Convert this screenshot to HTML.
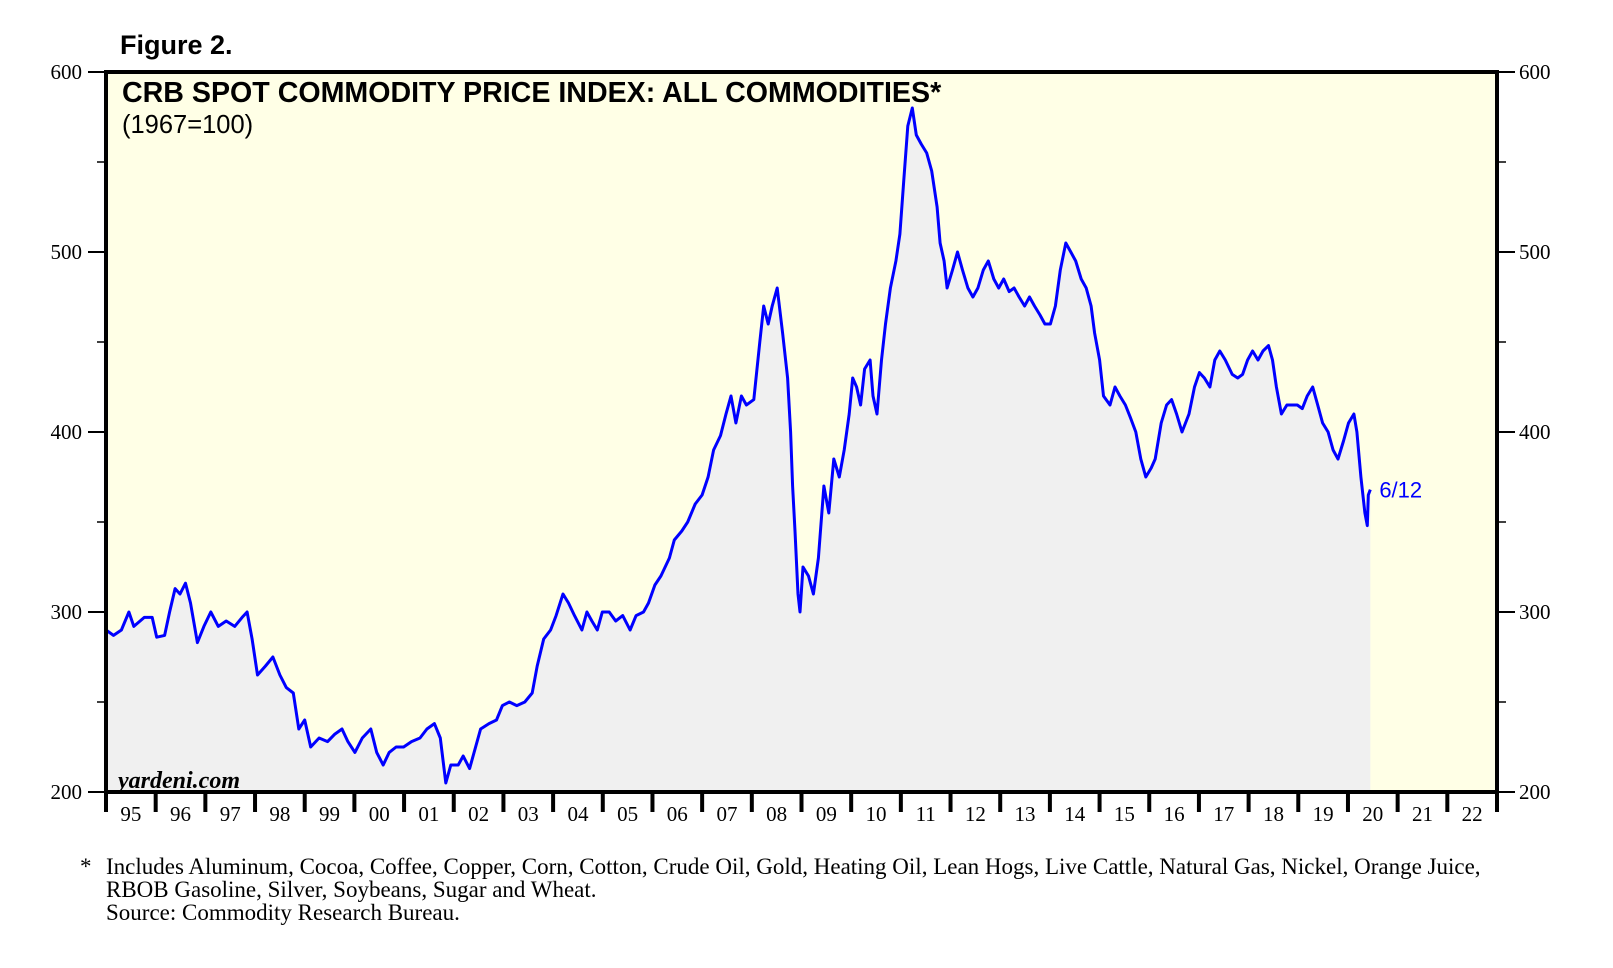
<!DOCTYPE html>
<html><head><meta charset="utf-8"><style>
body{margin:0;background:#fff;width:1613px;height:968px;overflow:hidden}
svg{display:block}
</style></head><body>
<svg id="chart" width="1613" height="968" xmlns="http://www.w3.org/2000/svg">
<text x="120" y="54" font-family="Liberation Sans, sans-serif" font-weight="bold" font-size="27">Figure 2.</text>
<rect x="106" y="72" width="1391" height="720" fill="#FFFFE6"/>
<g id="marks"></g>
<rect x="106" y="72" width="1391" height="720" fill="none" stroke="#000" stroke-width="4"/>
<text x="122" y="102" font-family="Liberation Sans, sans-serif" font-weight="bold" font-size="28.6">CRB SPOT COMMODITY PRICE INDEX: ALL COMMODITIES*</text>
<text x="122" y="133" font-family="Liberation Sans, sans-serif" font-size="25.5">(1967=100)</text>
<text x="118" y="788" font-family="Liberation Serif, serif" font-weight="bold" font-style="italic" font-size="24">yardeni.com</text>
<g id="axes"></g>
<g font-family="Liberation Serif, serif" font-size="23">
<text x="80" y="874">*</text>
<text x="106" y="874">Includes Aluminum, Cocoa, Coffee, Copper, Corn, Cotton, Crude Oil, Gold, Heating Oil, Lean Hogs, Live Cattle, Natural Gas, Nickel, Orange Juice,</text>
<text x="106" y="897">RBOB Gasoline, Silver, Soybeans, Sugar and Wheat.</text>
<text x="106" y="920">Source: Commodity Research Bureau.</text>
</g>
</svg>
<script>
const dates=[1995.00,1995.15,1995.31,1995.46,1995.56,1995.77,1995.93,1996.02,1996.18,1996.28,1996.39,1996.49,1996.60,1996.70,1996.84,1996.97,1997.11,1997.26,1997.42,1997.59,1997.74,1997.84,1997.94,1998.05,1998.21,1998.36,1998.50,1998.63,1998.77,1998.88,1999.00,1999.12,1999.29,1999.46,1999.60,1999.75,1999.87,2000.01,2000.16,2000.33,2000.45,2000.58,2000.70,2000.84,2000.99,2001.15,2001.32,2001.46,2001.61,2001.73,2001.84,2001.94,2002.09,2002.19,2002.32,2002.44,2002.54,2002.71,2002.86,2002.98,2003.12,2003.27,2003.43,2003.58,2003.68,2003.81,2003.95,2004.06,2004.20,2004.31,2004.43,2004.58,2004.68,2004.78,2004.89,2004.99,2005.13,2005.26,2005.40,2005.55,2005.67,2005.82,2005.92,2006.05,2006.17,2006.34,2006.44,2006.59,2006.71,2006.86,2007.00,2007.12,2007.23,2007.37,2007.48,2007.58,2007.68,2007.79,2007.89,2008.04,2008.16,2008.24,2008.33,2008.41,2008.51,2008.62,2008.72,2008.78,2008.82,2008.87,2008.93,2008.97,2009.03,2009.14,2009.24,2009.34,2009.45,2009.55,2009.65,2009.76,2009.86,2009.96,2010.03,2010.11,2010.19,2010.27,2010.38,2010.44,2010.52,2010.61,2010.69,2010.79,2010.90,2010.98,2011.06,2011.14,2011.23,2011.31,2011.41,2011.52,2011.62,2011.73,2011.79,2011.87,2011.93,2012.04,2012.14,2012.24,2012.35,2012.45,2012.55,2012.66,2012.76,2012.87,2012.97,2013.07,2013.18,2013.28,2013.38,2013.49,2013.59,2013.69,2013.80,2013.90,2014.01,2014.11,2014.21,2014.32,2014.42,2014.52,2014.63,2014.73,2014.83,2014.90,2015.00,2015.08,2015.21,2015.31,2015.41,2015.52,2015.62,2015.73,2015.83,2015.93,2016.04,2016.12,2016.24,2016.35,2016.45,2016.55,2016.66,2016.80,2016.91,2017.01,2017.11,2017.22,2017.32,2017.42,2017.53,2017.67,2017.78,2017.88,2017.98,2018.08,2018.19,2018.29,2018.40,2018.48,2018.56,2018.66,2018.77,2018.87,2018.98,2019.08,2019.18,2019.29,2019.39,2019.49,2019.60,2019.70,2019.80,2019.91,2020.01,2020.12,2020.18,2020.26,2020.34,2020.39,2020.41,2020.45];
const values=[290,287,290,300,292,297,297,286,287,300,313,310,316,305,283,292,300,292,295,292,297,300,285,265,270,275,265,258,255,235,240,225,230,228,232,235,228,222,230,235,222,215,222,225,225,228,230,235,238,230,205,215,215,220,213,225,235,238,240,248,250,248,250,255,270,285,290,298,310,305,298,290,300,295,290,300,300,295,298,290,298,300,305,315,320,330,340,345,350,360,365,375,390,398,410,420,405,420,415,418,450,470,460,470,480,455,430,400,370,345,310,300,325,320,310,330,370,355,385,375,390,410,430,425,415,435,440,420,410,440,460,480,495,510,540,570,580,565,560,555,545,525,505,495,480,490,500,490,480,475,480,490,495,485,480,485,478,480,475,470,475,470,465,460,460,470,490,505,500,495,485,480,470,455,440,420,415,425,420,415,408,400,385,375,380,385,405,415,418,410,400,410,425,433,430,425,440,445,440,432,430,432,440,445,440,445,448,440,425,410,415,415,415,413,420,425,415,405,400,390,385,395,405,410,400,375,355,348,365,368];
const yTicks=[200,300,400,500,600];
const yMinor=[250,350,450,550];
const yearLabels=["95","96","97","98","99","00","01","02","03","04","05","06","07","08","09","10","11","12","13","14","15","16","17","18","19","20","21","22"];
const endLabel="6/12";
const NS="http://www.w3.org/2000/svg";
const L=106,R=1497,T=72,B=792,X0=1995,X1=2023;
const xs=d=>L+(d-X0)/(X1-X0)*(R-L);
const ys=v=>B-(v-200)/400*(B-T);
function mk(tag,attrs,parent){const e=document.createElementNS(NS,tag);for(const k in attrs)e.setAttribute(k,attrs[k]);parent.appendChild(e);return e;}
const marks=document.getElementById('marks'),axes=document.getElementById('axes');
let pts=dates.map((d,i)=>xs(d).toFixed(1)+','+ys(values[i]).toFixed(1));
const area=mk('path',{d:'M'+xs(dates[0])+','+B+' L'+pts.join(' L')+' L'+xs(dates[dates.length-1])+','+B+' Z',fill:'#F0F0F0'},marks);


const line=mk('polyline',{points:pts.join(' '),fill:'none',stroke:'#0000FF','stroke-width':3,'stroke-linejoin':'round'},marks);


const lastI=dates.length-1;
const el=mk('text',{x:xs(dates[lastI])+9,y:ys(values[lastI])+8,fill:'#0000FF','font-family':'Liberation Sans, sans-serif','font-size':22},marks);
el.textContent=endLabel;


yTicks.forEach(v=>{
  const y=ys(v);
  const t1=mk('line',{x1:88,x2:L,y1:y,y2:y,stroke:'#000','stroke-width':2},axes);
  
  
  const t2=mk('line',{x1:R,x2:R+18,y1:y,y2:y,stroke:'#000','stroke-width':2},axes);
  
  
  const a=mk('text',{x:82,y:y+7,'text-anchor':'end','font-family':'Liberation Serif, serif','font-size':21},axes);a.textContent=v;
  
  
  const b=mk('text',{x:R+22,y:y+7,'font-family':'Liberation Serif, serif','font-size':21},axes);b.textContent=v;
  
  
});
yMinor.forEach(v=>{
  const y=ys(v);
  const a=mk('line',{x1:97,x2:L,y1:y,y2:y,stroke:'#000','stroke-width':1.5},axes);
  
  
  const b=mk('line',{x1:R,x2:R+9,y1:y,y2:y,stroke:'#000','stroke-width':1.5},axes);
  
  
});
yearLabels.forEach((lab,i)=>{
  const x=xs(X0+i);
  const t=mk('line',{x1:x,x2:x,y1:B,y2:812,stroke:'#000','stroke-width':4},axes);
  
  
  const tx=mk('text',{x:xs(X0+i+0.5),y:821,'text-anchor':'middle','font-family':'Liberation Serif, serif','font-size':21},axes);
  tx.textContent=lab;
  
  
});
const tl=mk('line',{x1:R,x2:R,y1:B,y2:812,stroke:'#000','stroke-width':4},axes);


</script>
</body></html>
